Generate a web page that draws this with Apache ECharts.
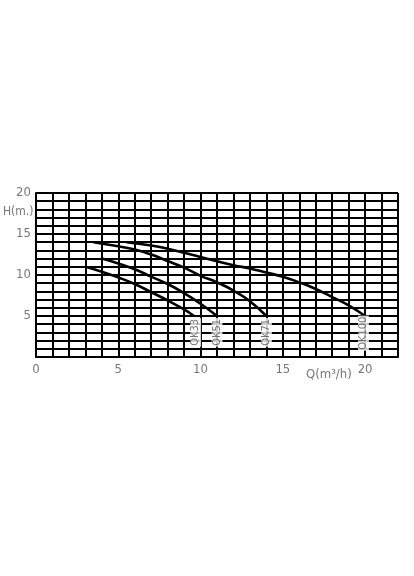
<!DOCTYPE html>
<html><head><meta charset="utf-8">
<script src="https://cdn.jsdelivr.net/npm/echarts@6/dist/echarts.min.js"></script>
<style>html,body{margin:0;padding:0;background:#fff}#c{width:414px;height:576px}</style>
</head><body><div id="c"></div>
<script>
const xTicks = [0, 5, 10, 15, 20];
const yTicks = [5, 10, 15, 20];
const seriesNames = ['OK33', 'OK51', 'OK71', 'OK100'];
const ok33 = [[3,11],[4,10.4],[5,9.7],[6,8.9],[7,7.9],[8,6.9],[9,5.8],[9.6,5]];
const ok51 = [[4,12],[5,11.4],[6,10.7],[7,9.8],[8,8.9],[9,7.8],[10,6.5],[11,5]];
const ok71 = [[3.5,14],[5,13.5],[6,13.1],[7,12.5],[8,11.7],[9,10.9],[10,9.9],[11,9.1],[12,8.1],[13,6.8],[14,5]];
const ok100 = [[5.5,14],[7,13.6],[8,13.2],[10,12.2],[12,11.2],[13,10.8],[14,10.3],[15,9.8],[16,9.1],[17,8.3],[18,7.3],[19,6.3],[20,5]];
const labelPos = [[9.7,3],[11,3],[14,3],[19.9,2.9]];

const FONT = "'Liberation Sans Narrow', 'DejaVu Sans Condensed', sans-serif";
const curves = [ok33, ok51, ok71, ok100];
const chart = echarts.init(document.getElementById('c'));
const series = curves.map((d, i) => ({
  name: seriesNames[i], type: 'line', data: d, smooth: true, showSymbol: false,
  lineStyle: {color: '#000', width: 2.6}, z: 5, silent: true
}));
series.push({
  type: 'scatter', symbolSize: 0, z: 6,
  data: labelPos.map((p, i) => ({value: p, name: seriesNames[i]})),
  label: {show: true, position: 'inside', rotate: 90, formatter: p => p.name,
    color: '#555', fontSize: 11, fontFamily: FONT,
    backgroundColor: '#fff', padding: [0, 1]}
});
chart.setOption({
  animation: false,
  backgroundColor: '#fff',
  grid: {left: 36, right: 16, top: 193, bottom: 219},
  xAxis: {type: 'value', min: 0, max: 22, interval: 1,
    axisLine: {show: true, lineStyle: {color: '#000', width: 2}},
    axisTick: {show: false},
    splitLine: {show: true, lineStyle: {color: '#000', width: 2}},
    axisLabel: {color: '#777', fontSize: 13, fontFamily: FONT, margin: 6,
      formatter: v => xTicks.includes(v) ? String(v) : ''}},
  yAxis: {type: 'value', min: 0, max: 20, interval: 1,
    axisLine: {show: true, lineStyle: {color: '#000', width: 2}},
    axisTick: {show: false},
    splitLine: {show: true, lineStyle: {color: '#000', width: 2}},
    axisLabel: {color: '#777', fontSize: 13, fontFamily: FONT, margin: 5,
      formatter: v => yTicks.includes(v) ? String(v) : ''}},
  graphic: [
    {type: 'text', left: 3, top: 206, style: {text: 'H(m.)', fill: '#777', font: '12px ' + FONT}},
    {type: 'text', left: 306, top: 368, style: {text: 'Q(m³/h)', fill: '#777', font: '13px ' + FONT}}
  ],
  series: series
});
</script></body></html>
